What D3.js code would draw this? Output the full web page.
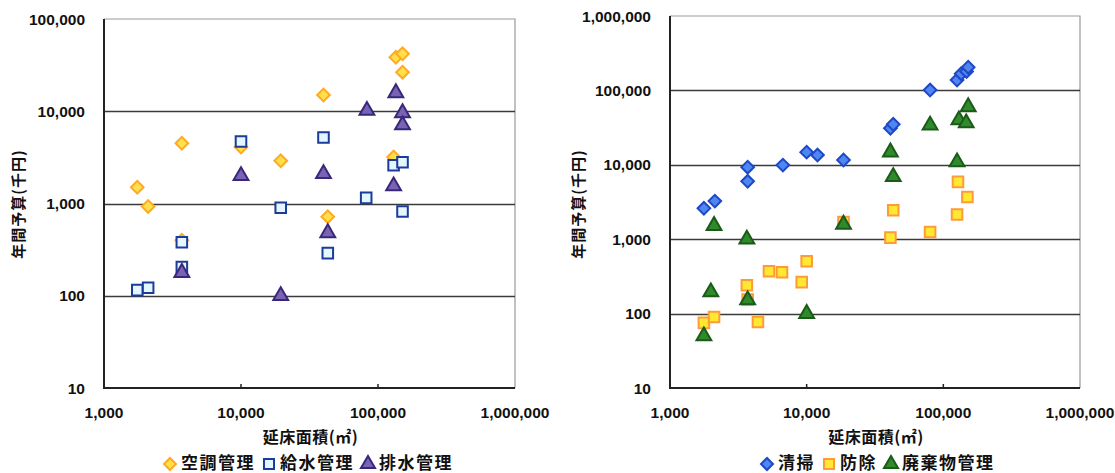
<!DOCTYPE html>
<html lang="ja">
    <head>
        <meta charset="utf-8"/>
        <script src="https://d3js.org/d3.v7.min.js"></script>
        <style>
            body { margin: 0; background: #fff; }
            text { font-family: "Liberation Sans", Arial, "Noto Sans CJK JP", sans-serif; font-weight: bold; fill: #111; }
            .jp { font-family: "Noto Sans CJK JP", sans-serif; }
        </style>
    </head>
    <body>
        <div id="chart"></div>
    </body>
    <script>
        // 延床面積(㎡) vs 年間予算(千円)
        var xTicks = [1000, 10000, 100000, 1000000];
        var yTicksLeft = [10, 100, 1000, 10000, 100000];
        var yTicksRight = [10, 100, 1000, 10000, 100000, 1000000];

        // left chart
        var kucho = [[1750, 1500], [2100, 930], [3700, 4500], [3700, 400], [10000, 4100], [19500, 2900],
            [40000, 15000], [43000, 720], [135000, 38500], [151000, 42000], [151000, 26500], [130000, 3200]];
        var kyusui = [[1750, 115], [2100, 122], [3700, 380], [3700, 205], [10000, 4700], [19500, 900],
            [40000, 5200], [43000, 290], [82000, 1150], [130000, 2600], [151000, 2800], [151000, 820]];
        var haisui = [[3700, 178], [10000, 2000], [19500, 100], [40000, 2100], [43000, 480], [83000, 10200],
            [135000, 15800], [151000, 9600], [151000, 7100], [130000, 1550]];

        // right chart
        var seisou = [[1770, 2600], [2130, 3250], [3700, 9300], [3700, 6000], [6700, 9900], [10000, 14800],
            [12000, 13500], [18600, 11600], [41000, 31000], [43000, 35000], [80000, 101000],
            [126000, 138000], [135000, 168000], [148000, 180000], [152000, 205000]];
        var bojo = [[1770, 75], [2100, 90], [3650, 240], [3700, 155], [4400, 77], [5300, 370], [6600, 360],
            [9200, 265], [10000, 505], [18600, 1700], [41000, 1050], [43000, 2450], [80000, 1250],
            [126000, 2150], [128000, 5900], [150000, 3700]];
        var haikibutsu = [[1770, 50], [1990, 195], [2100, 1520], [3650, 1000], [3700, 152], [10000, 100],
            [18600, 1580], [41000, 14800], [43000, 6900], [80000, 34000], [126000, 10900],
            [130000, 40000], [147000, 36500], [152000, 60000]];

        var W = 1115, H = 473;
        var svg = d3.select("#chart")
            .append("svg")
                .attr("width", W)
                .attr("height", H);

        var shapes = {
            diamond: { type: d3.symbolSquare, size: 80, rotate: 45 },
            square: { type: d3.symbolSquare, size: 112, rotate: 0 },
            triangle: { type: d3.symbolTriangle, size: 95, rotate: 0 }
        };

        function drawChart(cfg) {
            var g = svg.append("g");

            var x = d3.scaleLog()
                .domain([1000, 1000000])
                .range([cfg.left, cfg.right]);
            var y = d3.scaleLog()
                .domain([10, cfg.yTicks[cfg.yTicks.length - 1]])
                .range([cfg.bottom, cfg.top]);

            // border top/right
            g.append("path")
                .attr("d", "M" + cfg.left + "," + cfg.top + "H" + cfg.right + "V" + cfg.bottom)
                .attr("fill", "none")
                .attr("stroke", "#999")
                .attr("stroke-width", 1.2);

            // grid
            g.append("g")
                .selectAll("line")
                .data(cfg.yTicks.slice(1, -1))
                .enter()
                .append("line")
                .attr("x1", cfg.left)
                .attr("x2", cfg.right)
                .attr("y1", function (d) { return Math.round(y(d)) + 0.5; })
                .attr("y2", function (d) { return Math.round(y(d)) + 0.5; })
                .attr("stroke", "#3a3a3a")
                .attr("stroke-width", 1.3);

            // axes lines
            g.append("path")
                .attr("d", "M" + cfg.left + "," + cfg.top + "V" + cfg.bottom + "H" + cfg.right)
                .attr("fill", "none")
                .attr("stroke", "#222")
                .attr("stroke-width", 2);

            // x minor inward ticks
            g.append("g")
                .selectAll("line")
                .data(xTicks.slice(1, -1))
                .enter()
                .append("line")
                .attr("x1", function (d) { return x(d); })
                .attr("x2", function (d) { return x(d); })
                .attr("y1", cfg.bottom)
                .attr("y2", cfg.bottom - 4)
                .attr("stroke", "#222")
                .attr("stroke-width", 1.5);

            // tick labels
            g.append("g")
                .selectAll("text")
                .data(cfg.yTicks)
                .enter()
                .append("text")
                .attr("x", cfg.left - 19)
                .attr("y", function (d) { return y(d); })
                .attr("dy", "0.36em")
                .attr("text-anchor", "end")
                .style("font-size", "15.5px")
                .text(d3.format(","));

            g.append("g")
                .selectAll("text")
                .data(xTicks)
                .enter()
                .append("text")
                .attr("x", function (d) { return x(d); })
                .attr("y", 418)
                .attr("text-anchor", "middle")
                .style("font-size", "15.5px")
                .text(d3.format(","));

            // titles
            g.append("text")
                .attr("class", "jp")
                .attr("transform", "translate(" + cfg.yTitleX + "," + 204 + ") rotate(-90)")
                .attr("text-anchor", "middle")
                .style("font-size", "15px")
                .style("letter-spacing", "1px")
                .text("年間予算(千円)");

            g.append("text")
                .attr("class", "jp")
                .attr("x", (cfg.left + cfg.right) / 2 + 1)
                .attr("y", 443)
                .attr("text-anchor", "middle")
                .style("font-size", "16px")
                .style("letter-spacing", "0.5px")
                .text("延床面積(㎡)");

            // points
            cfg.series.forEach(function (s) {
                var sh = shapes[s.shape];
                g.append("g")
                    .selectAll("path")
                    .data(s.data)
                    .enter()
                    .append("path")
                    .attr("d", d3.symbol().type(sh.type).size(sh.size))
                    .attr("transform", function (d) {
                        return "translate(" + x(d[0]) + "," + y(d[1]) + ") rotate(" + sh.rotate + ")";
                    })
                    .attr("fill", s.fill)
                    .attr("stroke", s.stroke)
                    .attr("stroke-width", 2);
            });

            // legend
            var lg = g.append("g");
            var lx = cfg.legendX;
            cfg.series.forEach(function (s) {
                var sh = shapes[s.shape];
                lg.append("path")
                    .attr("d", d3.symbol().type(sh.type).size(sh.size * 0.9))
                    .attr("transform", "translate(" + (lx + 6) + "," + 464 + ") rotate(" + sh.rotate + ")")
                    .attr("fill", s.fill)
                    .attr("stroke", s.stroke)
                    .attr("stroke-width", 2);
                var t = lg.append("text")
                    .attr("class", "jp")
                    .attr("x", lx + 17)
                    .attr("y", 469)
                    .style("font-size", "17px")
                    .style("letter-spacing", "1.5px")
                    .text(s.name);
                lx += 17 + t.node().getComputedTextLength() + 8;
            });
        }

        drawChart({
            left: 104, right: 515, top: 19, bottom: 388,
            yTicks: yTicksLeft, yTitleX: 24, legendX: 164,
            series: [
                { name: "空調管理", data: kucho, shape: "diamond", fill: "#ffe04a", stroke: "#ffaa22" },
                { name: "給水管理", data: kyusui, shape: "square", fill: "#e4f6ff", stroke: "#1c3c9c" },
                { name: "排水管理", data: haisui, shape: "triangle", fill: "#7a62b4", stroke: "#38287a" }
            ]
        });

        drawChart({
            left: 670, right: 1080, top: 16, bottom: 388,
            yTicks: yTicksRight, yTitleX: 584, legendX: 761,
            series: [
                { name: "清掃", data: seisou, shape: "diamond", fill: "#4f86f0", stroke: "#1f48c8" },
                { name: "防除", data: bojo, shape: "square", fill: "#ffe830", stroke: "#ff9a3a" },
                { name: "廃棄物管理", data: haikibutsu, shape: "triangle", fill: "#2f8a2a", stroke: "#1c5a1a" }
            ]
        });
    </script>
</html>
